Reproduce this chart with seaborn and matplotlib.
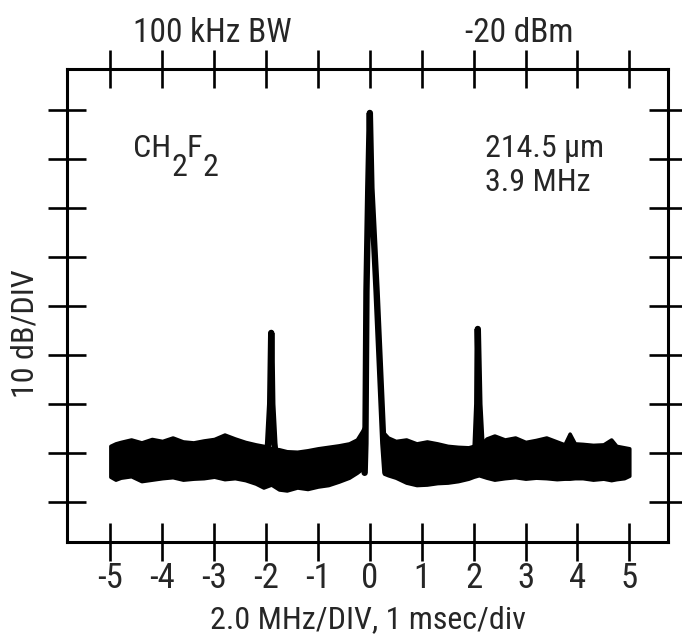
import matplotlib
matplotlib.use("Agg")
import matplotlib.pyplot as plt
from matplotlib import font_manager as fm
import seaborn as sns
import pandas as pd

# ---------------- data ----------------
x_ticks = [-5, -4, -3, -2, -1, 0, 1, 2, 3, 4, 5]
x_tick_labels = ["-5", "-4", "-3", "-2", "-1", "0", "1", "2", "3", "4", "5"]
y_ticks = [0, 10, 20, 30, 40, 50, 60, 70, 80]   # 10 dB/DIV graticule

# noise floor band, left of carrier (x in divisions, dB relative)
band_a_x = [-5.0, -4.9, -4.8, -4.6, -4.4, -4.2, -4.0, -3.8, -3.6, -3.4,
            -3.2, -3.0, -2.8, -2.6, -2.4, -2.2, -2.05, -1.9, -1.75, -1.6,
            -1.4, -1.2, -1.0, -0.8, -0.6, -0.4, -0.25, -0.15, -0.1]
band_a_upper = [11.5, 12.0, 12.3, 12.8, 12.2, 12.9, 12.5, 13.2, 12.4, 12.2,
                12.6, 12.9, 13.8, 13.0, 12.3, 11.8, 11.5, 11.0, 10.8, 10.4,
                10.3, 10.6, 11.0, 11.3, 11.6, 12.0, 12.8, 14.5, 15.5]
band_a_lower = [5.2, 4.6, 5.0, 5.3, 4.3, 4.6, 4.9, 5.1, 4.6, 4.8,
                4.9, 5.2, 4.7, 4.9, 4.5, 3.8, 3.0, 3.6, 2.6, 2.4,
                3.0, 2.7, 3.2, 3.5, 4.2, 5.0, 6.0, 6.8, 7.2]

# noise floor band, right of carrier
band_b_x = [0.28, 0.35, 0.5, 0.7, 0.9, 1.1, 1.3, 1.5, 1.7, 1.9,
            2.0, 2.1, 2.25, 2.4, 2.6, 2.8, 3.0, 3.2, 3.4, 3.6,
            3.75, 3.85, 3.95, 4.1, 4.3, 4.5, 4.65, 4.75, 4.9, 5.0]
band_b_upper = [14.0, 13.2, 12.5, 12.8, 12.0, 12.4, 12.0, 11.5, 11.3, 11.2,
                11.5, 11.5, 13.0, 13.6, 12.8, 13.2, 12.3, 12.7, 13.2, 12.4,
                11.8, 14.0, 12.0, 11.9, 11.7, 11.8, 12.8, 11.5, 11.2, 11.0]
band_b_lower = [5.8, 5.5, 5.0, 4.0, 3.5, 3.6, 3.9, 4.0, 4.3, 4.8,
                5.2, 5.5, 5.0, 4.6, 4.9, 5.1, 4.8, 5.0, 4.9, 4.7,
                4.8, 4.8, 4.9, 4.9, 4.6, 4.8, 4.5, 4.7, 4.9, 5.4]

# carrier (two-trace spike) and sidebands (foot -> top -> foot)
carrier_x = [-0.10, -0.085, -0.065, -0.03, 0.0, 0.03, 0.13, 0.26, 0.30]
carrier_y = [6.0, 12.0, 43.0, 64.0, 79.3, 64.0, 43.0, 12.0, 6.0]
lower_sb_x = [-2.00, -1.96, -1.92, -1.90, -1.88, -1.84, -1.80]
lower_sb_y = [8.0, 12.0, 20.0, 34.5, 20.0, 12.0, 8.0]
upper_sb_x = [2.02, 2.04, 2.07, 2.08, 2.11, 2.15, 2.18]
upper_sb_y = [8.0, 12.0, 20.0, 35.3, 20.0, 12.0, 8.0]

# ---------------- style ----------------
sns.set_theme(style="white")
names = {f.name for f in fm.fontManager.ttflist}
FONT = "DejaVu Sans"
for cand in ["Roboto Condensed", "Liberation Sans Narrow", "Liberation Sans"]:
    if cand in names:
        FONT = cand
        break
plt.rcParams["font.family"] = [FONT, "DejaVu Sans"]
plt.rcParams["axes.unicode_minus"] = False

W, H = 682, 637
fig = plt.figure(figsize=(W / 100, H / 100), dpi=100)
ax = fig.add_axes([67 / W, 1 - 542 / H, (668 - 67) / W, (542 - 69) / H])

# noise band
for bx, bu, bl in [(band_a_x, band_a_upper, band_a_lower),
                   (band_b_x, band_b_upper, band_b_lower)]:
    ax.fill_between(bx, bl, bu, color="black", linewidth=2.5,
                    edgecolor="black", joinstyle="round")

# peaks
for px, py in [(carrier_x, carrier_y), (lower_sb_x, lower_sb_y),
               (upper_sb_x, upper_sb_y)]:
    df = pd.DataFrame({"x": px, "y": py})
    sns.lineplot(data=df, x="x", y="y", sort=False, estimator=None,
                 color="black", linewidth=4.6, ax=ax,
                 solid_capstyle="round", solid_joinstyle="round")

ax.set_xlim(-5.835, 5.745)
ax.set_ylim(-8.09, 88.25)
ax.set_xticks(x_ticks)
ax.set_xticklabels(x_tick_labels, fontsize=25)
ax.set_yticks(y_ticks)
ax.set_yticklabels([])
ax.tick_params(axis="both", which="major", direction="inout", length=27,
               width=1.9, color="black", top=True, right=True, bottom=True,
               left=True, labeltop=False, labelright=False, labelleft=False,
               pad=1)
for s in ax.spines.values():
    s.set_visible(True)
    s.set_color("black")
    s.set_linewidth(2.2)

ax.set_xlabel("2.0 MHz/DIV, 1 msec/div", fontsize=23, labelpad=7)
ax.set_ylabel("10 dB/DIV", fontsize=23, va="center")
ax.yaxis.set_label_coords(-0.07, 0.44)

# header texts
fig.text(212 / W, 1 - 42 / H, "100 kHz BW", fontsize=24, ha="center",
         va="baseline")
fig.text(519 / W, 1 - 42 / H, "-20 dBm", fontsize=24, ha="center",
         va="baseline")

# annotation texts inside the plot
fig.text(485 / W, 1 - 157 / H, "214.5 μm", fontsize=23, va="baseline")
fig.text(485 / W, 1 - 191 / H, "3.9 MHz", fontsize=23, va="baseline")

# CH2F2 with full-size lowered subscripts
renderer = fig.canvas.get_renderer()
xpix = 133
for piece, base in [("CH", 157), ("2", 176), ("F", 157), ("2", 176)]:
    t = fig.text(xpix / W, 1 - base / H, piece, fontsize=23, va="baseline")
    bb = t.get_window_extent(renderer=renderer)
    xpix += bb.width

fig.savefig("out.png", dpi=100)
